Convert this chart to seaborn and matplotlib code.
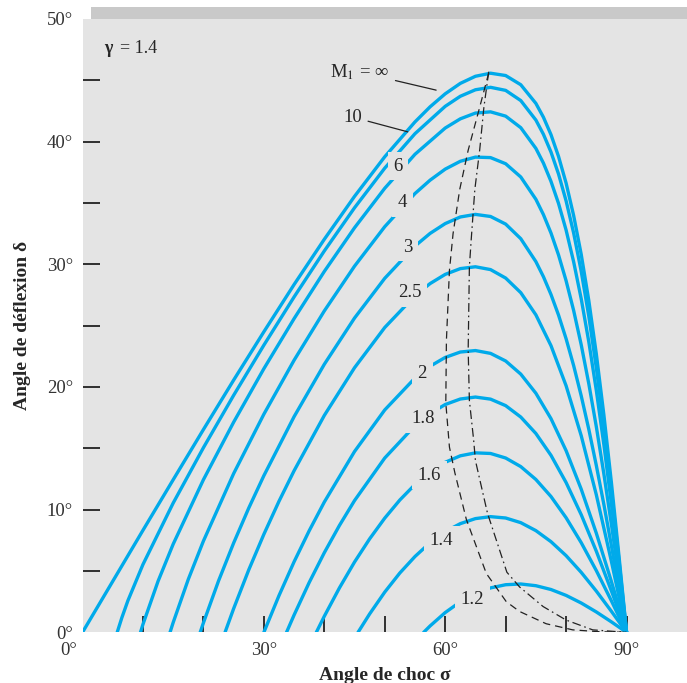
import numpy as np
import pandas as pd
import matplotlib.pyplot as plt
import seaborn as sns
from matplotlib.patches import Rectangle
from matplotlib.transforms import ScaledTranslation

# style
sns.set_theme(style="white")
plt.rcParams['font.family'] = ['Liberation Serif', 'DejaVu Serif']
plt.rcParams['mathtext.fontset'] = 'stix'

BLUE = '#00aaea'
BG = '#e4e4e4'

sig_inf = [0, 5, 10, 15, 20, 25, 30, 35, 40, 45, 50, 55, 57.5, 60, 62.5, 65, 67.5, 70, 72.5, 75, 76.25, 77.5, 78.75, 80, 81.25, 82.5, 83.75, 85, 86.25, 87.5, 88.75, 90]
del_inf = [0, 4.16, 8.32, 12.44, 16.53, 20.56, 24.50, 28.35, 32.04, 35.54, 38.77, 41.61, 42.84, 43.90, 44.75, 45.33, 45.58, 45.39, 44.64, 43.12, 41.99, 40.57, 38.79, 36.62, 33.97, 30.81, 27.06, 22.69, 17.72, 12.18, 6.21, 0]

sig_10 = [5.74, 6.5, 7.5, 10, 15, 20, 25, 30, 35, 40, 45, 50, 55, 60, 62.5, 65, 67.5, 70, 72.5, 75, 76.25, 77.5, 78.75, 80, 81.25, 82.5, 83.75, 85, 86.25, 87.5, 88.75, 90]
del_10 = [0, 1.18, 2.57, 5.53, 10.54, 15.05, 19.32, 23.41, 27.34, 31.09, 34.61, 37.84, 40.65, 42.88, 43.70, 44.23, 44.43, 44.18, 43.35, 41.76, 40.60, 39.15, 37.36, 35.17, 32.55, 29.43, 25.78, 21.55, 16.78, 11.51, 5.86, 0]

sig_6 = [9.59, 10, 12.5, 15, 20, 25, 30, 35, 40, 45, 50, 55, 60, 62.5, 65, 67.5, 70, 72.5, 75, 76.25, 77.5, 78.75, 80, 81.25, 82.5, 83.75, 85, 86.25, 87.5, 88.75, 90]
del_6 = [0, 0.65, 4.17, 7.19, 12.44, 17.13, 21.49, 25.57, 29.42, 32.98, 36.20, 38.97, 41.11, 41.86, 42.33, 42.43, 42.08, 41.14, 39.45, 38.25, 36.76, 34.96, 32.79, 30.20, 27.19, 23.70, 19.72, 15.29, 10.45, 5.31, 0]

sig_4 = [14.48, 15, 17.5, 20, 25, 30, 35, 40, 45, 50, 55, 57.5, 60, 62.5, 65, 67.5, 70, 72.5, 75, 76.25, 77.5, 78.75, 80, 81.25, 82.5, 83.75, 85, 86.25, 87.5, 88.75, 90]
del_4 = [0, 0.80, 4.32, 7.44, 12.94, 17.78, 22.18, 26.20, 29.85, 33.07, 35.77, 36.86, 37.76, 38.40, 38.74, 38.70, 38.20, 37.12, 35.30, 34.05, 32.55, 30.76, 28.66, 26.23, 23.44, 20.28, 16.76, 12.91, 8.78, 4.45, 0]

sig_3 = [19.47, 20, 22.5, 25, 27.5, 30, 35, 40, 45, 50, 55, 57.5, 60, 62.5, 65, 67.5, 70, 72.5, 75, 76.25, 77.5, 78.75, 80, 81.25, 82.5, 83.75, 85, 86.25, 87.5, 88.75, 90]
del_3 = [0, 0.77, 4.19, 7.28, 10.13, 12.77, 17.58, 21.85, 25.62, 28.86, 31.49, 32.52, 33.32, 33.86, 34.07, 33.90, 33.28, 32.09, 30.22, 28.99, 27.54, 25.86, 23.93, 21.74, 19.28, 16.56, 13.60, 10.42, 7.05, 3.56, 0]

sig_25 = [23.58, 25, 27.5, 30, 32.5, 35, 40, 45, 50, 55, 57.5, 60, 62.5, 65, 67.5, 70, 72.5, 75, 77.5, 80, 82.5, 85, 87.5, 90]
del_25 = [0, 1.93, 5.09, 7.99, 10.68, 13.17, 17.68, 21.57, 24.85, 27.44, 28.43, 29.18, 29.65, 29.80, 29.57, 28.88, 27.69, 25.88, 23.37, 20.10, 16.03, 11.21, 5.77, 0]

sig_2 = [30, 32.5, 35, 37.5, 40, 45, 50, 55, 57.5, 60, 62.5, 65, 67.5, 70, 72.5, 75, 77.5, 80, 82.5, 85, 87.5, 90]
del_2 = [0, 2.99, 5.75, 8.28, 10.62, 14.74, 18.13, 20.73, 21.69, 22.41, 22.85, 22.97, 22.74, 22.12, 21.05, 19.49, 17.42, 14.81, 11.67, 8.08, 4.13, 0]

sig_18 = [33.75, 35, 37.5, 40, 42.5, 45, 50, 55, 57.5, 60, 62.5, 65, 67.5, 70, 72.5, 75, 77.5, 80, 82.5, 85, 87.5, 90]
del_18 = [0, 1.41, 4.06, 6.49, 8.71, 10.74, 14.21, 16.85, 17.83, 18.57, 19.02, 19.18, 19.01, 18.48, 17.55, 16.21, 14.43, 12.21, 9.59, 6.61, 3.37, 0]

sig_16 = [38.68, 40, 42.5, 45, 47.5, 50, 52.5, 55, 57.5, 60, 62.5, 65, 67.5, 70, 72.5, 75, 77.5, 80, 82.5, 85, 87.5, 90]
del_16 = [0, 1.31, 3.62, 5.73, 7.62, 9.31, 10.79, 12.05, 13.08, 13.86, 14.39, 14.63, 14.58, 14.21, 13.51, 12.46, 11.07, 9.34, 7.31, 5.03, 2.56, 0]

sig_14 = [45.58, 47.5, 50, 52.5, 55, 57.5, 60, 62.5, 65, 67.5, 70, 72.5, 75, 77.5, 80, 82.5, 85, 87.5, 90]
del_14 = [0, 1.50, 3.28, 4.84, 6.18, 7.31, 8.21, 8.86, 9.27, 9.43, 9.32, 8.94, 8.29, 7.39, 6.25, 4.89, 3.36, 1.71, 0]

sig_12 = [56.44, 57.5, 60, 62.5, 65, 67.5, 70, 72.5, 75, 77.5, 80, 82.5, 85, 87.5, 90]
del_12 = [0, 0.52, 1.61, 2.49, 3.16, 3.62, 3.88, 3.94, 3.80, 3.49, 3.01, 2.39, 1.66, 0.85, 0]

# ligne M2 = 1 (tirets) et ligne delta max (tiret-point)
sig_sonic = [67.2, 65.7, 63.8, 62.4, 61.3, 60.7, 60.2, 60.1, 60.7, 61.6, 63.5, 66.8, 70.1, 72.3, 76.7, 81.1, 85.5, 90]
del_sonic = [45.6, 42.8, 39.3, 36.1, 32.5, 29.5, 23.8, 18.7, 15.1, 13.0, 9.2, 4.8, 2.5, 1.7, 0.7, 0.2, 0.05, 0]
sig_max = [67.2, 66.4, 65.7, 64.9, 64.3, 64.0, 63.8, 64.0, 64.7, 65.0, 67.0, 69.0, 70.2, 72.3, 76.2, 80.0, 84.4, 90]
del_max = [45.7, 42.8, 39.3, 36.1, 32.0, 29.8, 23.0, 18.9, 15.7, 14.0, 9.7, 6.7, 4.9, 3.7, 2.1, 1.0, 0.2, 0]

mach = ['∞', '10', '6', '4', '3', '2.5', '2', '1.8', '1.6', '1.4', '1.2']
sigmas = [sig_inf, sig_10, sig_6, sig_4, sig_3, sig_25, sig_2, sig_18, sig_16, sig_14, sig_12]
deltas = [del_inf, del_10, del_6, del_4, del_3, del_25, del_2, del_18, del_16, del_14, del_12]

df = pd.concat([pd.DataFrame({'sigma': s, 'delta': d, 'M1': m})
                for m, s, d in zip(mach, sigmas, deltas)], ignore_index=True)

fig = plt.figure(figsize=(6.87, 6.83), dpi=100)
ax = fig.add_axes([0.1201, 0.0742, 0.8799, 0.898])
ax.set_facecolor(BG)
fig.add_artist(Rectangle((91 / 687, 1 - 19 / 683), 1 - 91 / 687, 12 / 683,
                         transform=fig.transFigure, facecolor='#c9c9c9', edgecolor='none'))

sns.lineplot(data=df, x='sigma', y='delta', hue='M1', palette={m: BLUE for m in mach},
             sort=False, estimator=None, legend=False, linewidth=2.4, ax=ax, zorder=2)
sns.lineplot(x=sig_sonic, y=del_sonic, sort=False, estimator=None, color='#222222',
             linewidth=0.9, linestyle=(0, (6, 4)), ax=ax, zorder=3)
sns.lineplot(x=sig_max, y=del_max, sort=False, estimator=None, color='#222222',
             linewidth=0.9, linestyle=(0, (7, 3, 1.3, 3)), ax=ax, zorder=3)

# étiquettes des courbes (dans une coupure)
lbl_pos = [('6', 52.15, 38.0), ('4', 52.98, 35.0), ('3', 53.8, 31.4), ('2.5', 54.1, 27.7),
           ('2', 56.2, 21.1), ('1.8', 56.3, 17.4), ('1.6', 57.4, 12.8), ('1.4', 59.4, 7.5),
           ('1.2', 64.5, 2.7)]
for txt, x, y in lbl_pos:
    ax.text(x, y, txt, ha='center', va='center', fontsize=13.5, zorder=5,
            bbox=dict(boxstyle='square,pad=0.3', facecolor=BG, edgecolor='none'))

ax.annotate('M$_1$ = ∞', xy=(58.5, 44.2), xytext=(45.9, 45.66), ha='center', va='center',
            fontsize=13.5, zorder=5,
            arrowprops=dict(arrowstyle='-', color='#222222', lw=0.9, shrinkA=2, shrinkB=0))
ax.annotate('10', xy=(53.8, 40.8), xytext=(44.7, 42.0), ha='center', va='center',
            fontsize=13.5, zorder=5,
            arrowprops=dict(arrowstyle='-', color='#222222', lw=0.9, shrinkA=2, shrinkB=0))

ax.text(3.55, 47.25, 'γ', fontsize=13, fontweight='bold', ha='left', va='baseline')
ax.text(6.2, 47.25, '= 1.4', fontsize=13, ha='left', va='baseline')

# axes
ax.set_xlim(0, 100)
ax.set_ylim(0, 50)
ax.set_xticks([0, 30, 60, 90])
ax.set_xticklabels(['0°', '30°', '60°', '90°'])
ax.set_xticks([10, 20, 40, 50, 70, 80], minor=True)
ax.set_yticks([0, 10, 20, 30, 40, 50])
ax.set_yticklabels(['0°', '10°', '20°', '30°', '40°', '50°'])
ax.set_yticks([5, 15, 25, 35, 45], minor=True)
ax.tick_params(which='both', direction='in', bottom=True, left=True, color='#111111',
               width=1.2, labelsize=13.5, labelcolor='#333333')
ax.tick_params(axis='x', which='both', length=11.5, pad=7)
ax.tick_params(axis='y', which='both', length=12.5, pad=7)
ax.xaxis.get_major_ticks()[0].tick1line.set_visible(False)
ax.yaxis.get_major_ticks()[0].tick1line.set_visible(False)
ax.yaxis.get_major_ticks()[-1].tick1line.set_visible(False)
lbl0 = ax.get_xticklabels()[0]
lbl0.set_transform(lbl0.get_transform() + ScaledTranslation(-14 / 100, 0, fig.dpi_scale_trans))
for s in ax.spines.values():
    s.set_visible(False)

ax.set_xlabel('Angle de choc σ', fontsize=14, fontweight='bold', labelpad=6)
ax.set_ylabel('Angle de déflexion δ', fontsize=14, fontweight='bold', labelpad=11)

fig.savefig('out.png', dpi=100, facecolor='white')
